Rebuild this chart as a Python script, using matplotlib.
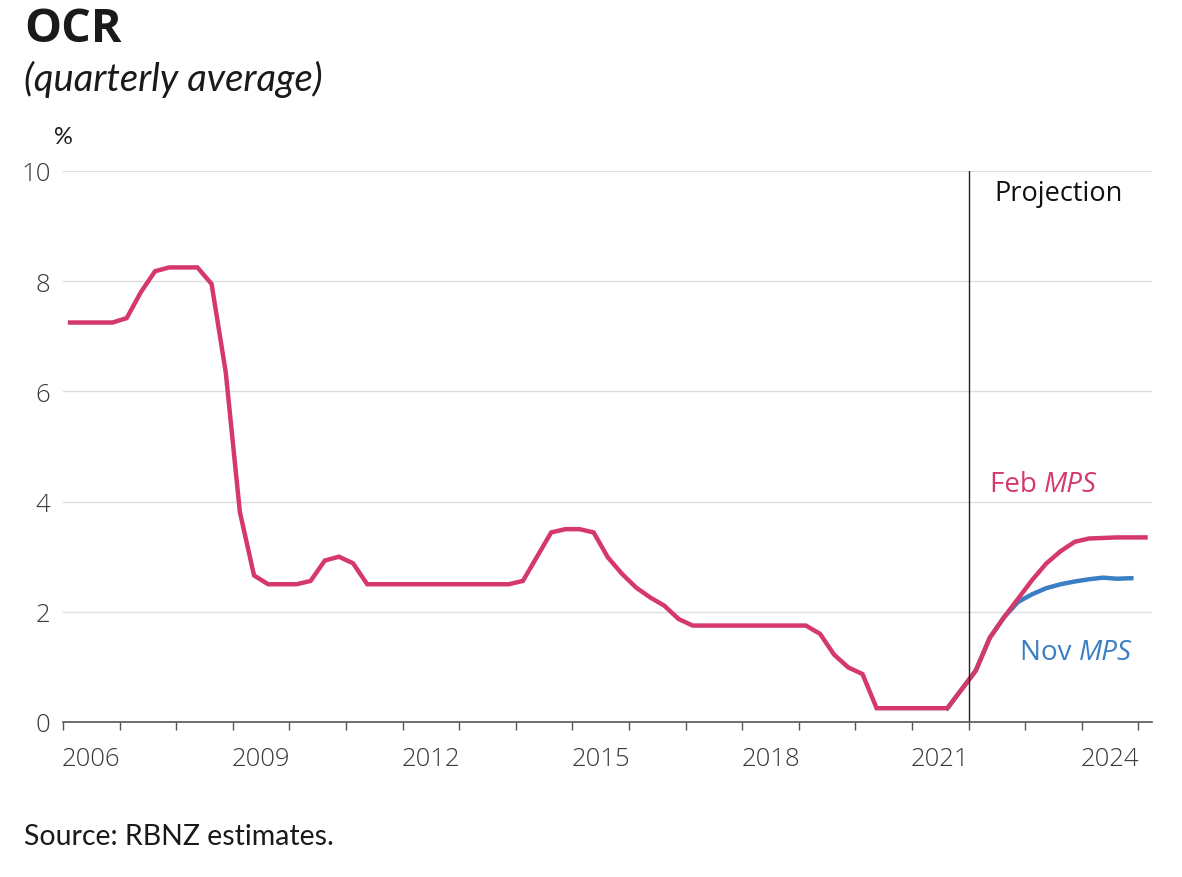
import matplotlib
matplotlib.use("Agg")
import matplotlib.pyplot as plt
import numpy as np

# ---- data (quarterly averages, %) ----
feb_start = (2006, 1)
feb_mps = [
    7.25, 7.25, 7.25, 7.25,   # 2006
    7.33, 7.80, 8.18, 8.25,   # 2007
    8.25, 8.25, 7.95, 6.35,   # 2008
    3.81, 2.66, 2.50, 2.50,   # 2009
    2.50, 2.56, 2.93, 3.00,   # 2010
    2.88, 2.50, 2.50, 2.50,   # 2011
    2.50, 2.50, 2.50, 2.50,   # 2012
    2.50, 2.50, 2.50, 2.50,   # 2013
    2.56, 3.00, 3.44, 3.50,   # 2014
    3.50, 3.44, 2.99, 2.69,   # 2015
    2.44, 2.26, 2.11, 1.87,   # 2016
    1.75, 1.75, 1.75, 1.75,   # 2017
    1.75, 1.75, 1.75, 1.75,   # 2018
    1.75, 1.60, 1.22, 0.99,   # 2019
    0.87, 0.25, 0.25, 0.25,   # 2020
    0.25, 0.25, 0.25, 0.59,   # 2021
    0.93, 1.53, 1.90, 2.24,   # 2022
    2.58, 2.88, 3.10, 3.27,   # 2023
    3.33, 3.34, 3.35, 3.35,   # 2024
    3.35,                     # 2025
]
nov_start = (2021, 3)
nov_mps = [
    0.25, 0.59,               # 2021
    0.93, 1.53, 1.90, 2.18,   # 2022
    2.32, 2.43, 2.50, 2.55,   # 2023
    2.59, 2.62, 2.60, 2.61,   # 2024
]
year_labels = [2006, 2009, 2012, 2015, 2018, 2021, 2024]
y_ticks = [0, 2, 4, 6, 8, 10]
projection_start = 2022.0

RED = "#D5386B"
BLUE = "#3A7EC3"


def quarter_positions(start, n):
    y, q = start
    first = y + (q - 0.5) / 4.0
    return first + np.arange(n) * 0.25


x_feb = quarter_positions(feb_start, len(feb_mps))
x_nov = quarter_positions(nov_start, len(nov_mps))

plt.rcParams["font.family"] = ["Open Sans", "DejaVu Sans"]

fig = plt.figure(figsize=(11.82, 8.78), dpi=100)
ax = fig.add_axes([63 / 1182, 1 - 723 / 878, (1152 - 63) / 1182, (723 - 172) / 878])

ax.plot(x_nov, nov_mps, color=BLUE, lw=3.2, solid_joinstyle="miter", zorder=3)
ax.plot(x_feb, feb_mps, color=RED, lw=3.2, solid_joinstyle="miter", zorder=4)

ax.axvline(projection_start, color="#222222", lw=1.0, zorder=5)

ax.set_xlim(2006.0, 2025.24)
ax.set_ylim(0, 10)

# y axis
ax.set_yticks(y_ticks)
ax.set_yticklabels([str(v) for v in y_ticks])
ax.tick_params(axis="y", length=0, pad=9, labelsize=18.5, labelcolor="#3a3a3a")
ax.grid(axis="y", color="#dddddd", lw=1.0, zorder=0)
ax.set_axisbelow(True)

# x axis: labels centred within years, ticks at year boundaries
ax.set_xticks([y + 0.5 for y in year_labels])
ax.set_xticklabels([str(y) for y in year_labels])
ax.set_xticks(np.arange(2006, 2026), minor=True)
ax.tick_params(axis="x", which="major", length=0, pad=17, labelsize=18.5, labelcolor="#3a3a3a")
ax.tick_params(axis="x", which="minor", length=6, width=1.0, color="#555555", direction="out")

for lab in ax.get_xticklabels() + ax.get_yticklabels():
    lab.set_fontweight("light")

for s in ["left", "right", "top"]:
    ax.spines[s].set_visible(False)
ax.spines["bottom"].set_color("#555555")
ax.spines["bottom"].set_linewidth(1.2)
ax.spines["bottom"].set_zorder(6)

# annotations
ax.text(2022.46, 9.6, "Projection", fontsize=19.5, color="#111111", ha="left", va="center")

t1 = ax.text(2022.38, 4.32, "Feb ", fontsize=20, color=RED, ha="left", va="center")
ax.annotate("MPS", xy=(1, 0), xycoords=t1, fontsize=20, color=RED, style="italic",
            ha="left", va="bottom")
t2 = ax.text(2022.91, 1.27, "Nov ", fontsize=20, color=BLUE, ha="left", va="center")
ax.annotate("MPS", xy=(1, 0), xycoords=t2, fontsize=20, color=BLUE, style="italic",
            ha="left", va="bottom")

# titles and notes
fig.text(24 / 1182, 1 - 30 / 878, "OCR", fontsize=33.5, fontweight="bold", color="#1a1a1a",
         family=["Open Sans", "DejaVu Sans"], ha="left", va="center")
fig.text(24 / 1182, 1 - 79 / 878, "(quarterly average)", fontsize=27.5, style="italic",
         color="#1a1a1a", family=["Lato", "DejaVu Sans"], ha="left", va="center")
fig.text(63 / 1182, 1 - 138 / 878, "%", fontsize=17, color="#1a1a1a",
         family=["Lato", "DejaVu Sans"], ha="center", va="center")
fig.text(24 / 1182, 1 - 837 / 878, "Source: RBNZ estimates.", fontsize=20.5, color="#1a1a1a",
         family=["Lato", "DejaVu Sans"], ha="left", va="center")

fig.savefig("out.png", dpi=100)
